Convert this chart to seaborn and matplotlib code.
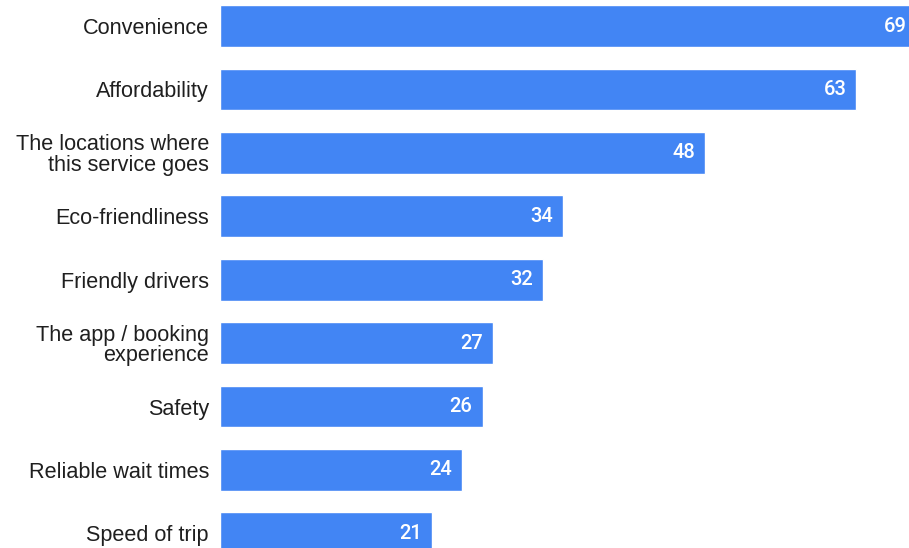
import matplotlib
matplotlib.use("Agg")
import matplotlib.pyplot as plt
import seaborn as sns
import pandas as pd

categories = ["Convenience", "Affordability", "The locations where\nthis service goes",
              "Eco-friendliness", "Friendly drivers", "The app / booking\nexperience",
              "Safety", "Reliable wait times", "Speed of trip"]
values = [69, 63, 48, 34, 32, 27, 26, 24, 21]

df = pd.DataFrame({"category": categories, "value": values})

sns.set_theme(style="white")
plt.rcParams['font.family'] = ['Liberation Sans', 'DejaVu Sans']

fig = plt.figure(figsize=(9.09, 5.48), dpi=100)
ax = fig.add_axes([220/909, 0, 689/909, 1])
sns.barplot(data=df, y="category", x="value", color="#4285F4", saturation=1,
            width=0.66, ax=ax, orient="h")

ax.set_xlim(0, 68.2)
ax.set_ylim(8.23, -0.41)
for s in ax.spines.values():
    s.set_visible(False)
ax.set_xlabel("")
ax.set_ylabel("")
ax.set_xticks([])
ax.tick_params(axis="y", length=0, pad=8, labelsize=15.6, labelcolor="#1f1f1f")
for lbl in ax.get_yticklabels():
    lbl.set_linespacing(0.95)

for p, v in zip(ax.patches, values):
    y = p.get_y() + p.get_height() / 2
    ax.text(v - 1.0, y, str(v), color="white", ha="right", va="center",
            fontsize=14.5, family=["Roboto", "DejaVu Sans"], fontweight="medium")

fig.savefig("out.png", dpi=100)
